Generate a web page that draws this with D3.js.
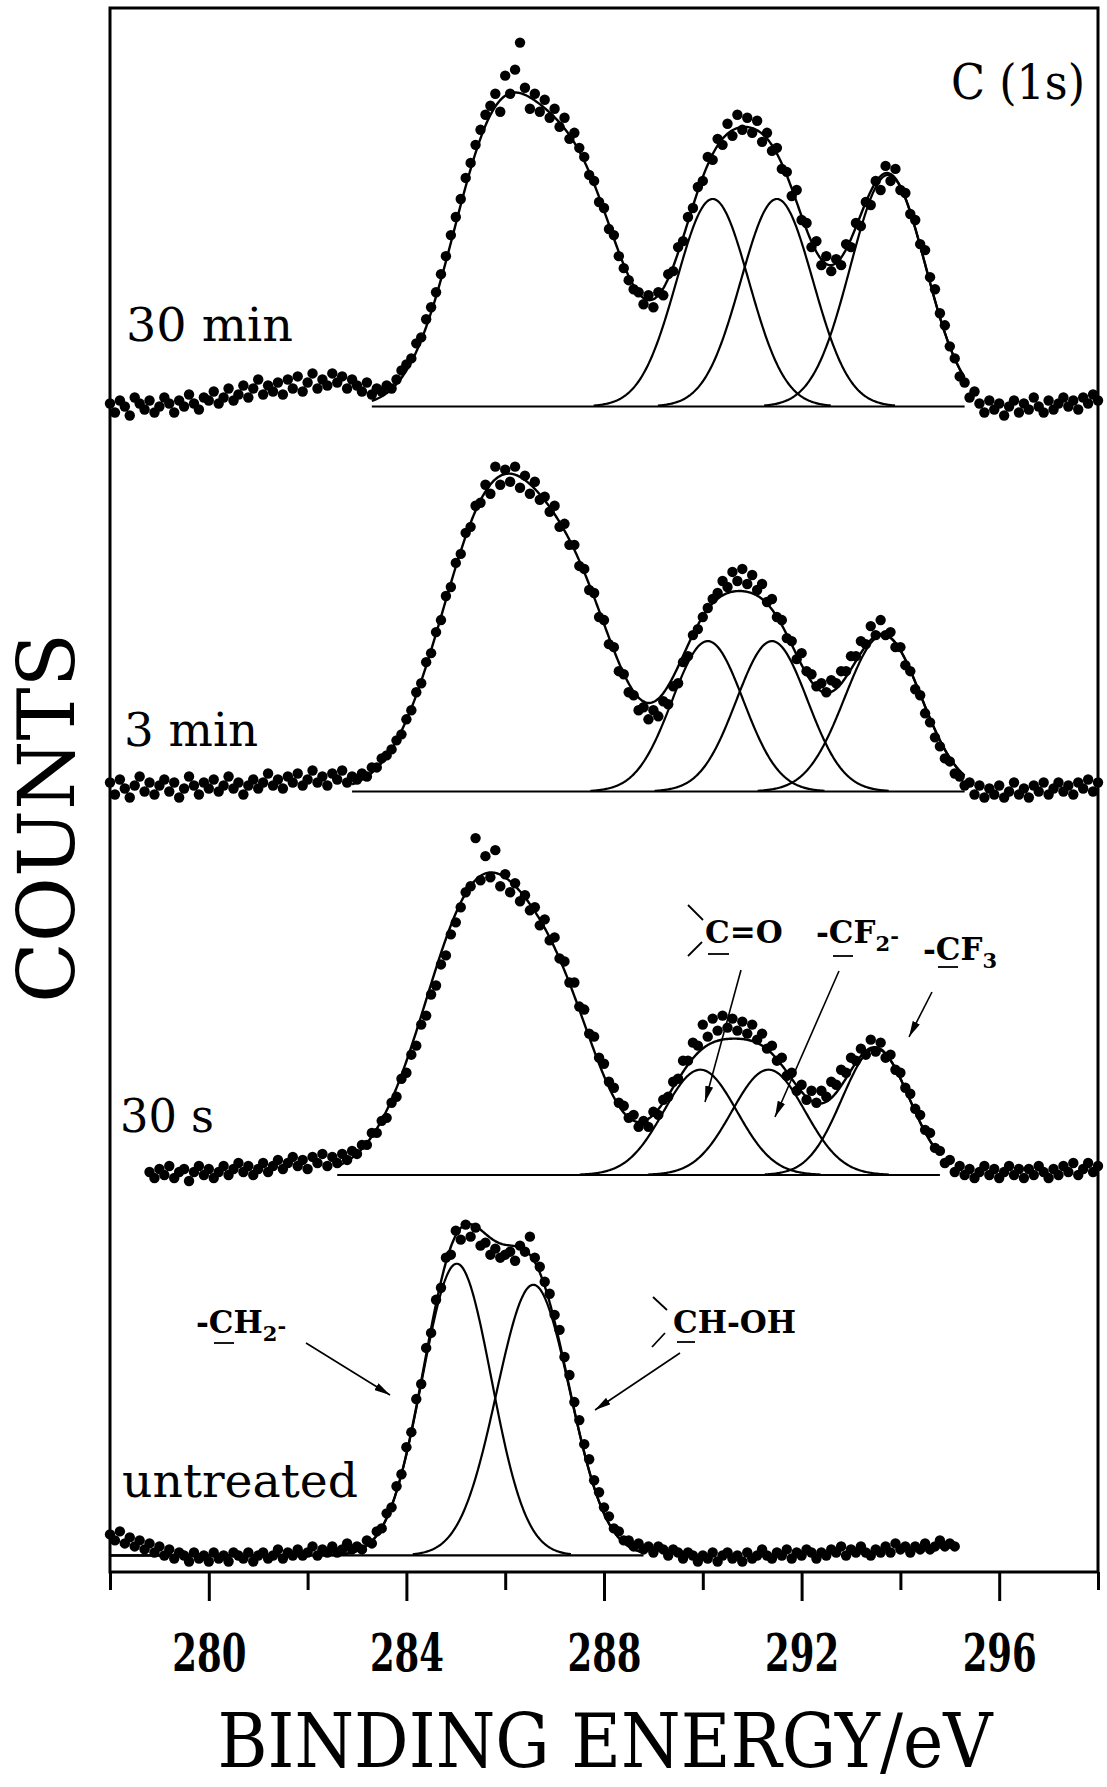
<!DOCTYPE html>
<html>
<head>
<meta charset="utf-8">
<script src="https://cdn.jsdelivr.net/npm/d3@7"></script>
<style>
  body { margin: 0; background: #fff; }
  svg text { font-family: "DejaVu Serif", serif; fill: #000; }
</style>
</head>
<body>
<div id="chart"></div>
<script>
// C(1s) XPS spectra. Counts are in arbitrary units,
// one value every 0.1 eV starting at startEnergy.
const STEP = 0.1;
const spectrumNames = ["untreated", "30 s", "3 min", "30 min"];
const startEnergy = [278.0, 278.8, 278.0, 278.0];
const offsets = [5.5, 132, 259.5, 387.5]; // vertical stacking of the spectra

const countsUntreated = [
  7, 5, 8, 4, 6, 3, 5, 2, 4, 1,
  3, 0, 2, -1, 1, 0, -2, 1, -1, 0,
  -2, 1, -1, 0, -2, 1, 0, -1, 1, -2,
  0, 1, -1, 0, 2, -1, 1, 0, 2, 0,
  1, 3, 0, 2, 1, 3, 1, 2, 4, 2,
  3, 2, 5, 4, 8, 9, 14, 16, 23, 27,
  36, 41, 52, 57, 69, 74, 85, 89, 99, 100,
  108, 105, 110, 106, 109, 103, 104, 100, 102, 99,
  100, 101, 98, 103, 101, 106, 99, 96, 91, 87,
  80, 75, 66, 60, 51, 45, 37, 32, 25, 21,
  16, 13, 9, 8, 5, 5, 3, 4, 2, 3,
  1, 3, 2, 0, 2, 1, -1, 1, 0, -2,
  0, -1, 1, -2, 0, 1, -1, 0, -2, 1,
  -1, 0, 2, 0, -1, 1, 0, 2, -1, 1,
  0, 2, 1, -1, 1, 0, 2, 1, 3, 0,
  2, 1, 3, 1, 0, 2, 1, 3, 1, 4,
  2, 3, 1, 3, 2, 4, 2, 3, 5, 3,
  4, 3
];

const counts30s = [
  1, -1, 2, 0, 3, -1, 1, 2, -2, 1,
  3, 0, 2, -1, 1, 3, 0, 2, 4, 1,
  3, 0, 2, 4, 1, 3, 5, 2, 4, 6,
  3, 5, 2, 6, 4, 7, 3, 6, 4, 7,
  5, 8, 7, 10, 10, 14, 14, 18, 19, 24,
  26, 32, 34, 40, 43, 50, 53, 60, 63, 70,
  73, 80, 84, 89, 94, 96, 112, 98, 106, 99,
  108, 96, 100, 94, 97, 91, 93, 88, 89, 83,
  85, 78, 79, 72, 71, 64, 64, 56, 55, 47,
  46, 39, 37, 31, 29, 24, 23, 19, 20, 16,
  18, 16, 21, 20, 25, 26, 31, 32, 38, 38,
  44, 43, 50, 46, 52, 48, 53, 49, 52, 48,
  51, 47, 50, 45, 47, 42, 43, 38, 39, 33,
  34, 28, 30, 25, 28, 24, 28, 26, 31, 30,
  35, 34, 39, 38, 42, 40, 45, 41, 44, 39,
  40, 35, 34, 29, 27, 22, 20, 15, 14, 9,
  8, 4, 5, 1, 3, 0, 2, -1, 1, 3,
  0, 2, -1, 1, 3, 0, 2, -1, 2, 0,
  3, 1, -1, 2, 0, 3, 1, 4, 0, 2,
  4, 1, 3
];

const counts3min = [
  3, -1, 4, 1, -2, 2, 5, 0, 3, -1,
  2, 4, 0, 3, -2, 1, 5, 2, -1, 3,
  1, 4, 0, 2, 5, 1, 3, -1, 2, 4,
  1, 3, 6, 2, 4, 1, 5, 3, 6, 2,
  4, 7, 3, 5, 2, 6, 4, 7, 3, 5,
  4, 6, 5, 8, 8, 11, 12, 14, 17, 19,
  24, 27, 33, 36, 43, 46, 53, 57, 65, 68,
  76, 79, 86, 88, 95, 96, 102, 99, 108, 102,
  107, 103, 108, 101, 105, 99, 103, 97, 98, 93,
  95, 88, 89, 82, 82, 75, 74, 67, 66, 58,
  57, 49, 48, 40, 39, 33, 32, 27, 28, 24,
  27, 25, 30, 29, 35, 36, 43, 45, 52, 54,
  58, 61, 64, 66, 70, 68, 73, 70, 74, 69,
  72, 67, 69, 63, 64, 58, 57, 51, 50, 44,
  46, 40, 39, 35, 36, 33, 37, 36, 40, 40,
  45, 45, 50, 49, 55, 52, 57, 52, 53, 48,
  48, 42, 40, 34, 32, 26, 23, 18, 15, 11,
  10, 6, 5, 2, 3, -1, 2, -2, 1, -1,
  2, -2, 0, 3, -1, 1, -2, 2, 0, 3,
  -1, 1, 3, 0, 2, -1, 3, 1, 4, 0,
  3
];

const counts30min = [
  1, -2, 2, 0, -3, 3, 1, -1, 2, -2,
  0, 3, 1, -2, 2, 0, 4, 1, -1, 3,
  2, 5, 1, 3, 6, 2, 4, 7, 3, 6,
  9, 4, 7, 5, 8, 4, 9, 6, 10, 5,
  8, 11, 6, 9, 7, 11, 8, 10, 6, 9,
  7, 5, 8, 4, 6, 5, 7, 6, 9, 12,
  14, 16, 21, 23, 29, 33, 38, 44, 50, 57,
  63, 69, 76, 81, 87, 92, 97, 100, 104, 98,
  110, 104, 112, 121, 106, 99, 104, 98, 102, 96,
  99, 93, 96, 89, 91, 86, 83, 77, 75, 68,
  66, 59, 57, 50, 46, 42, 39, 38, 34, 37,
  33, 38, 37, 44, 45, 53, 55, 63, 66, 73,
  75, 83, 82, 89, 87, 94, 90, 97, 92, 96,
  91, 95, 88, 91, 85, 86, 79, 78, 70, 72,
  62, 61, 53, 55, 47, 50, 45, 49, 47, 54,
  53, 61, 60, 68, 67, 75, 72, 80, 75, 79,
  72, 71, 64, 62, 54, 52, 43, 39, 31, 27,
  20, 16, 10, 8, 3, 5, 1, -2, 2, -1,
  1, -3, 0, 2, -2, 1, -1, 3, 0, -2,
  2, -1, 1, 3, 0, 2, -1, 3, 1, 4,
  2
];

// Fitted Gaussian peaks per spectrum: centre (eV), height, sigma (eV).
// Treated samples: CH2, CH-OH, C=O, CF2, CF3; untreated: CH2, CH-OH.
const fitCentres = [
  [285.02, 286.57],
  [285.45, 287.15, 289.95, 291.33, 293.5],
  [285.75, 287.5, 290.1, 291.4, 293.65],
  [285.8, 287.5, 290.2, 291.5, 293.75]
];
const fitHeights = [
  [97, 90],
  [93, 43, 35, 35, 42],
  [95, 53, 50, 50, 52],
  [88, 70, 69, 69, 77]
];
const fitSigmas = [
  [0.7, 0.74],
  [1.08, 0.85, 0.74, 0.74, 0.68],
  [1.05, 0.9, 0.72, 0.72, 0.77],
  [0.9, 0.9, 0.73, 0.73, 0.76]
];
const fitShown = [
  [1, 1],
  [0, 0, 1, 1, 1],
  [0, 0, 1, 1, 1],
  [0, 0, 1, 1, 1]
];
const fitRange = [[278.0, 288.8], [282.6, 294.8], [282.9, 295.3], [283.3, 295.3]];

const xTicks = [280, 284, 288, 292, 296];
const xMinorTicks = [278, 282, 286, 290, 294, 298];

function init() {
  const width = 1107;
  const height = 1787;

  const x = d3.scaleLinear().domain([278, 298]).range([110, 1098]);
  const y = d3.scaleLinear().domain([0, 520]).range([1572, 8]);

  const svg = d3.select("#chart")
    .append("svg")
    .attr("width", width)
    .attr("height", height);

  const gauss = (e, c, h, s) => h * Math.exp(-((e - c) * (e - c)) / (2 * s * s));
  const line = d3.line().x(d => x(d[0])).y(d => y(d[1]));

  const spectra = [countsUntreated, counts30s, counts3min, counts30min];

  spectra.forEach(function (counts, k) {
    const off = offsets[k];
    const lo = fitRange[k][0], hi = fitRange[k][1];
    const g = svg.append("g").attr("class", "spectrum");

    // baseline of the fit
    g.append("path")
      .attr("d", line([[lo, off], [hi, off]]))
      .attr("fill", "none").attr("stroke", "#000").attr("stroke-width", 2.2);

    // single components
    fitCentres[k].forEach(function (c, j) {
      if (!fitShown[k][j]) return;
      const s = fitSigmas[k][j], h = fitHeights[k][j];
      const a = Math.max(lo, c - 3.3 * s), b = Math.min(hi, c + 3.3 * s);
      const pts = d3.range(a, b + 0.001, 0.02).map(e => [e, off + gauss(e, c, h, s)]);
      g.append("path")
        .attr("d", line(pts))
        .attr("fill", "none").attr("stroke", "#000").attr("stroke-width", 2.2);
    });

    // envelope (sum of all peaks)
    const env = d3.range(lo, hi + 0.001, 0.02).map(e =>
      [e, off + d3.sum(fitCentres[k], (c, j) => gauss(e, c, fitHeights[k][j], fitSigmas[k][j]))]);
    g.append("path")
      .attr("d", line(env))
      .attr("fill", "none").attr("stroke", "#000").attr("stroke-width", 2.4);

    // measured points
    g.selectAll("circle")
      .data(counts)
      .join("circle")
      .attr("cx", (v, i) => x(startEnergy[k] + i * STEP))
      .attr("cy", v => y(off + v))
      .attr("r", 5.2)
      .attr("fill", "#000");
  });

  // frame
  svg.append("rect")
    .attr("x", x.range()[0]).attr("y", y.range()[1])
    .attr("width", x.range()[1] - x.range()[0])
    .attr("height", y.range()[0] - y.range()[1])
    .attr("fill", "none").attr("stroke", "#000").attr("stroke-width", 3);

  // x axis
  const axis = svg.append("g").attr("transform", `translate(0,${y.range()[0]})`);
  axis.append("g")
    .call(d3.axisBottom(x).tickValues(xMinorTicks).tickSize(18).tickFormat(""))
    .call(s => s.select(".domain").remove());
  const major = axis.append("g")
    .call(d3.axisBottom(x).tickValues(xTicks).tickSize(29).tickFormat(d3.format("d")))
    .call(s => s.select(".domain").remove());
  axis.selectAll(".tick line").attr("stroke", "#000").attr("stroke-width", 3);
  major.selectAll(".tick text")
    .attr("y", 99).attr("dy", null)
    .attr("font-size", 53)
    .attr("font-weight", "bold")
    .attr("font-family", "DejaVu Serif")
    .attr("textLength", 74).attr("lengthAdjust", "spacingAndGlyphs")
    .attr("fill", "#000");

  svg.append("text")
    .attr("x", 605).attr("y", 1767)
    .attr("text-anchor", "middle")
    .attr("font-size", 74)
    .attr("textLength", 775).attr("lengthAdjust", "spacingAndGlyphs")
    .text("BINDING ENERGY/eV");

  svg.append("text")
    .attr("transform", "translate(74,818) rotate(-90)")
    .attr("text-anchor", "middle")
    .attr("font-size", 78)
    .attr("textLength", 370).attr("lengthAdjust", "spacingAndGlyphs")
    .text("COUNTS");

  // spectrum labels
  const labels = [[122, 1497, 236], [120, 1132, 94], [124, 746, 134], [126, 341, 167]];
  spectrumNames.forEach(function (name, k) {
    svg.append("text")
      .attr("x", labels[k][0]).attr("y", labels[k][1])
      .attr("font-size", 47)
      .attr("textLength", labels[k][2]).attr("lengthAdjust", "spacingAndGlyphs")
      .text(name);
  });

  svg.append("text")
    .attr("x", 951).attr("y", 99)
    .attr("font-size", 48)
    .attr("textLength", 134).attr("lengthAdjust", "spacingAndGlyphs")
    .text("C (1s)");

  // peak annotations
  const defs = svg.append("defs");
  defs.append("marker")
    .attr("id", "head").attr("markerUnits", "userSpaceOnUse")
    .attr("viewBox", "0 0 16 8").attr("refX", 16).attr("refY", 4)
    .attr("markerWidth", 16).attr("markerHeight", 8).attr("orient", "auto")
    .append("path").attr("d", "M0,0 L16,4 L0,8 Z").attr("fill", "#000");

  const arrows = [
    [741, 970, 705, 1102],
    [839, 971, 775, 1117],
    [932, 992, 909, 1037],
    [306, 1343, 390, 1395],
    [680, 1353, 595, 1410]
  ];
  svg.selectAll(".arrow").data(arrows).join("line")
    .attr("class", "arrow")
    .attr("x1", d => d[0]).attr("y1", d => d[1])
    .attr("x2", d => d[2]).attr("y2", d => d[3])
    .attr("stroke", "#000").attr("stroke-width", 1.6)
    .attr("marker-end", "url(#head)");

  const strokes = [
    [688, 905, 703, 920], [688, 956, 702, 942],     // >C=O
    [653, 1297, 667, 1310], [652, 1347, 665, 1333], // >CH-OH
    [708, 954, 729, 954], [833, 956, 853, 956], [938, 967, 958, 967],
    [214, 1343, 234, 1343], [677, 1342, 695, 1342]
  ];
  svg.selectAll(".stroke").data(strokes).join("line")
    .attr("class", "stroke")
    .attr("x1", d => d[0]).attr("y1", d => d[1])
    .attr("x2", d => d[2]).attr("y2", d => d[3])
    .attr("stroke", "#000").attr("stroke-width", 1.8);

  // label made of pieces: [text, baseline shift] - subscripts are smaller
  function peakLabel(px, py, parts) {
    const t = svg.append("text").attr("x", px).attr("y", py)
      .attr("font-size", 31).attr("font-weight", "bold");
    parts.forEach(function (p) {
      const s = t.append("tspan").text(p[0]);
      if (p[1]) s.attr("font-size", 21).attr("dy", p[1]);
    });
    return t;
  }
  peakLabel(705, 943, [["C=O"]]);
  peakLabel(816, 943, [["-CF"], ["2", 8], ["-", -8]]);
  peakLabel(923, 960, [["-CF"], ["3", 8]]);
  peakLabel(196, 1333, [["-CH"], ["2", 8], ["-", -8]]);
  peakLabel(673, 1333, [["CH-OH"]]);
}

window.onload = init;
</script>
</body>
</html>
